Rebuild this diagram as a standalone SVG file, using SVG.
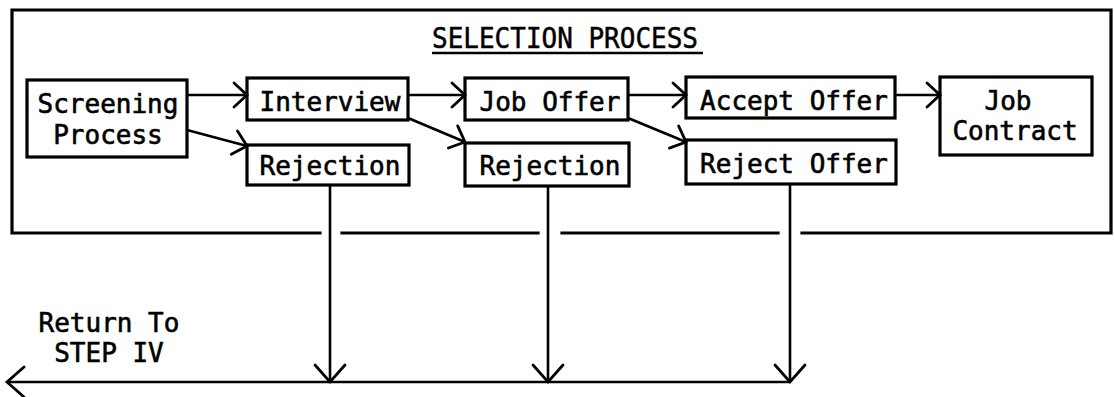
<svg xmlns="http://www.w3.org/2000/svg" width="1114" height="397" viewBox="0 0 1114 397">
  <defs>
    <style>
      .box { fill: #fff; stroke: #000; stroke-width: 3.2; }
      .frame { fill: none; stroke: #000; stroke-width: 3.2; stroke-linecap: square; }
      .lbl { font-family: "DejaVu Sans Mono", "Liberation Mono", monospace; font-size: 26px; fill: #000; stroke: #000; stroke-width: 0.6; text-anchor: middle; }
      .title { font-family: "DejaVu Sans Mono", "Liberation Mono", monospace; font-size: 28px; fill: #000; stroke: #000; stroke-width: 0.5; }
      .flow { fill: none; stroke: #000; stroke-width: 2.6; }
      .head { fill: none; stroke: #000; stroke-width: 2.8; stroke-linecap: round; stroke-linejoin: miter; }
    </style>
    <marker id="arrow" markerUnits="userSpaceOnUse" viewBox="-16 -14 20 28" refX="0" refY="0" markerWidth="20" markerHeight="28" orient="auto" overflow="visible">
      <path class="head" d="M -13 -12 L 0 0 L -13 12"/>
    </marker>
    <marker id="arrow-lg" markerUnits="userSpaceOnUse" viewBox="-20 -18 24 36" refX="0" refY="0" markerWidth="24" markerHeight="36" orient="auto" overflow="visible">
      <path class="head" d="M -17 -15 L 0 0 L -17 15"/>
    </marker>
  </defs>

  <rect width="1114" height="397" fill="#fff"/>

  <!-- enclosing frame; bottom edge is broken where the return lines cross it -->
  <g id="frame">
    <path class="frame" d="M 320 233 L 12 233 L 12 10 L 1111 10 L 1111 233 L 802 233"/>
    <line class="frame" x1="342" y1="233" x2="538" y2="233"/>
    <line class="frame" x1="562" y1="233" x2="778" y2="233"/>
    <text class="title" x="432" y="48" textLength="266" lengthAdjust="spacingAndGlyphs">SELECTION PROCESS</text>
    <line x1="432" y1="53" x2="703" y2="53" stroke="#000" stroke-width="2.5"/>
  </g>

  <g id="screening">
    <rect class="box" x="27" y="80" width="160" height="77"/>
    <text class="lbl" x="108" y="113">Screening</text>
    <text class="lbl" x="108" y="144">Process</text>
  </g>

  <g id="interview">
    <rect class="box" x="247" y="78" width="161" height="42"/>
    <text class="lbl" x="330" y="111">Interview</text>
  </g>

  <g id="rejection-1">
    <rect class="box" x="247" y="145" width="162" height="40"/>
    <text class="lbl" x="330" y="175">Rejection</text>
  </g>

  <g id="job-offer">
    <rect class="box" x="465" y="78" width="163" height="42"/>
    <text class="lbl" x="550" y="111">Job Offer</text>
  </g>

  <g id="rejection-2">
    <rect class="box" x="465" y="143" width="164" height="43"/>
    <text class="lbl" x="550" y="175">Rejection</text>
  </g>

  <g id="accept-offer">
    <rect class="box" x="686" y="77" width="209" height="41"/>
    <text class="lbl" x="794" y="110">Accept Offer</text>
  </g>

  <g id="reject-offer">
    <rect class="box" x="686" y="140" width="210" height="44"/>
    <text class="lbl" x="794" y="173">Reject Offer</text>
  </g>

  <g id="job-contract">
    <rect class="box" x="940" y="77" width="152" height="78"/>
    <text class="lbl" x="1008" y="110">Job</text>
    <text class="lbl" x="1015" y="140">Contract</text>
  </g>

  <g id="return-label">
    <text class="lbl" x="109" y="332">Return To</text>
    <text class="lbl" x="109" y="362">STEP IV</text>
  </g>

  <g id="connectors">
    <line class="flow" x1="187" y1="95" x2="247" y2="95" marker-end="url(#arrow)"/>
    <line class="flow" x1="187" y1="130" x2="247" y2="146" marker-end="url(#arrow)"/>
    <line class="flow" x1="408" y1="95" x2="465" y2="95" marker-end="url(#arrow)"/>
    <line class="flow" x1="408" y1="118" x2="465" y2="142" marker-end="url(#arrow)"/>
    <line class="flow" x1="628" y1="95" x2="686" y2="95" marker-end="url(#arrow)"/>
    <line class="flow" x1="628" y1="118" x2="686" y2="142" marker-end="url(#arrow)"/>
    <line class="flow" x1="895" y1="95" x2="940" y2="95" marker-end="url(#arrow)"/>

    <!-- return lines down to STEP IV -->
    <line class="flow" x1="330" y1="185" x2="330" y2="382" marker-end="url(#arrow-lg)"/>
    <line class="flow" x1="548" y1="186" x2="548" y2="382" marker-end="url(#arrow-lg)"/>
    <line class="flow" x1="790" y1="184" x2="790" y2="382" marker-end="url(#arrow-lg)"/>
    <line class="flow" x1="790" y1="382" x2="7" y2="382" marker-end="url(#arrow-lg)"/>
  </g>
</svg>
